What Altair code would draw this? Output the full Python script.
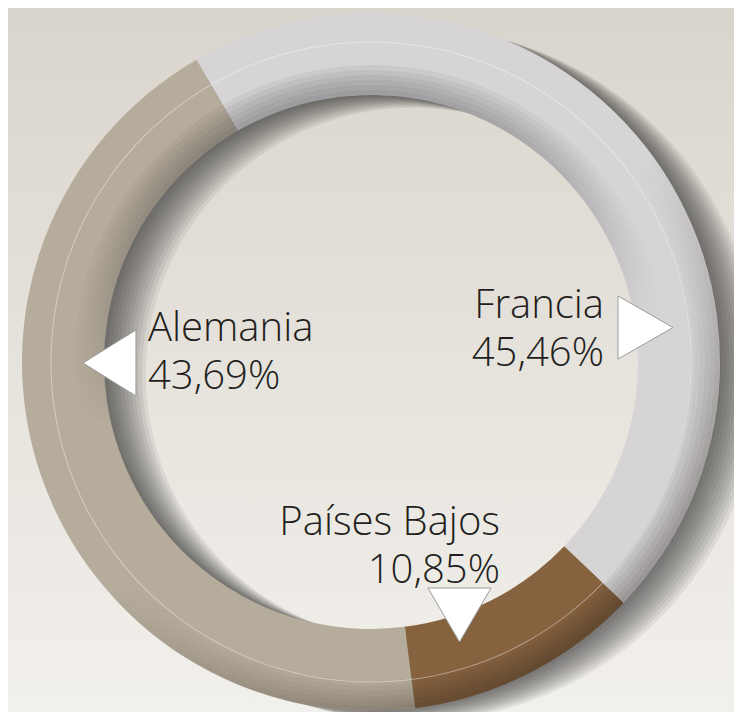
import math
import altair as alt
import pandas as pd

# ---------------- data ----------------
countries = ["Francia", "Países Bajos", "Alemania"]
shares = [45.46, 10.85, 43.69]
share_labels = ["45,46%", "10,85%", "43,69%"]
seg_colors = ["#d6d4d5", "#87623f", "#b6ac9b"]

# annotation anchors (chart pixel space)
label_x = [596, 492, 140]
label_y = [310, 527, 333]
label_align = ["right", "right", "left"]

pointer_x = [637.5, 451.5, 101.5]
pointer_y = [319.5, 607, 355]
pointer_dir = ["right", "down", "left"]

# ---------------- layout / style ----------------
W, H = 726, 704
CX, CY = 363, 354
R_OUT, R_IN = 349, 267
START = -math.pi / 6

xs = alt.Scale(domain=[0, W], range=[0, W], zero=False, nice=False)
ys = alt.Scale(domain=[0, H], range=[0, H], zero=False, nice=False)

one = alt.Data(values=[{"k": 1}])

# background gradient
bg = alt.Chart(one).mark_rect(
    color=alt.Gradient(
        gradient="linear",
        stops=[alt.GradientStop(color="#dad5cc", offset=0),
               alt.GradientStop(color="#f2f0ec", offset=1)],
        x1=0, x2=0, y1=0, y2=1,
    )
).encode(x=alt.value(0), x2=alt.value(W), y=alt.value(0), y2=alt.value(H))

# drop shadow: smeared translucent copies of the ring toward lower right
layers = [bg]
N = 11
for k in range(1, N + 1):
    layers.append(
        alt.Chart(one).mark_arc(
            theta=0, theta2=2 * math.pi, radius=R_OUT - 2, radius2=R_IN,
            color="#262626", opacity=0.08,
        ).encode(x=alt.value(CX + 3.8 * k), y=alt.value(CY + 1.15 * k))
    )

seg = pd.DataFrame({"country": countries, "share": shares, "ord": [0, 1, 2]})
donut = alt.Chart(seg).mark_arc(radius=R_OUT, radius2=R_IN).encode(
    x=alt.value(CX), y=alt.value(CY),
    theta=alt.Theta("share:Q", stack=True,
                    scale=alt.Scale(range=[START, START + 2 * math.pi])),
    order=alt.Order("ord:Q"),
    color=alt.Color("country:N", scale=alt.Scale(domain=countries, range=seg_colors),
                    legend=None),
)
layers.append(donut)

# shading: inner edge darker at top
for k in range(6):
    layers.append(
        alt.Chart(one).mark_arc(
            theta=0, theta2=2 * math.pi, radius=R_IN + 5 * (k + 1), radius2=R_IN,
            color=alt.Gradient(
                gradient="linear",
                stops=[alt.GradientStop(color="rgba(40,40,45,0.07)", offset=0),
                       alt.GradientStop(color="rgba(40,40,45,0.0)", offset=0.55)],
                x1=0.3, x2=0.5, y1=0, y2=1,
            ),
        ).encode(x=alt.value(CX), y=alt.value(CY))
    )
# shading: outer edge darker at lower right
for k in range(6):
    layers.append(
        alt.Chart(one).mark_arc(
            theta=0, theta2=2 * math.pi, radius=R_OUT, radius2=R_OUT - 5 * (k + 1),
            color=alt.Gradient(
                gradient="linear",
                stops=[alt.GradientStop(color="rgba(30,25,20,0.0)", offset=0.45),
                       alt.GradientStop(color="rgba(30,25,20,0.07)", offset=1)],
                x1=0.2, x2=0.8, y1=0.2, y2=0.95,
            ),
        ).encode(x=alt.value(CX), y=alt.value(CY))
    )

# faint thin circle
layers.append(
    alt.Chart(one).mark_arc(
        theta=0, theta2=2 * math.pi, radius=320.6, radius2=319.6,
        color="#ffffff", opacity=0.4,
    ).encode(x=alt.value(CX), y=alt.value(CY))
)

# pointer triangles
ptr = pd.DataFrame({"x": pointer_x, "y": pointer_y, "dir": pointer_dir})
shape_paths = [
    "M 1.02 0 L -1.02 -1.17 L -1.02 1.17 Z",
    "M 0 1 L -1.17 -1 L 1.17 -1 Z",
    "M -0.98 0 L 0.98 -1.22 L 0.98 1.22 Z",
]
pointers = alt.Chart(ptr).mark_point(
    filled=True, fill="#ffffff", stroke="#9b9b9b", strokeWidth=1,
    size=2916, opacity=1, fillOpacity=1, strokeOpacity=1,
).encode(
    x=alt.X("x:Q", scale=xs, axis=None),
    y=alt.Y("y:Q", scale=ys, axis=None),
    shape=alt.Shape("dir:N", scale=alt.Scale(domain=pointer_dir, range=shape_paths),
                    legend=None),
)
layers.append(pointers)

# labels
lab = pd.DataFrame({
    "text": [c + "\n" + p for c, p in zip(countries, share_labels)],
    "x": label_x, "y": label_y, "align": label_align,
})
for al in ["right", "left"]:
    layers.append(
        alt.Chart(lab).transform_filter(alt.datum.align == al).mark_text(
            align=al, baseline="alphabetic", fontSize=40, font="Open Sans",
            fontWeight=300, lineBreak="\n", lineHeight=48, color="#231f20",
        ).encode(
            x=alt.X("x:Q", scale=xs, axis=None),
            y=alt.Y("y:Q", scale=ys, axis=None),
            text="text:N",
        )
    )

chart = alt.layer(*layers).properties(
    width=W, height=H, padding=0,
    autosize=alt.AutoSizeParams(type="none"),
    background="#e6e2db",
).configure_view(stroke=None)

chart.save("out.html", embed_options={"renderer": "svg", "actions": False})
